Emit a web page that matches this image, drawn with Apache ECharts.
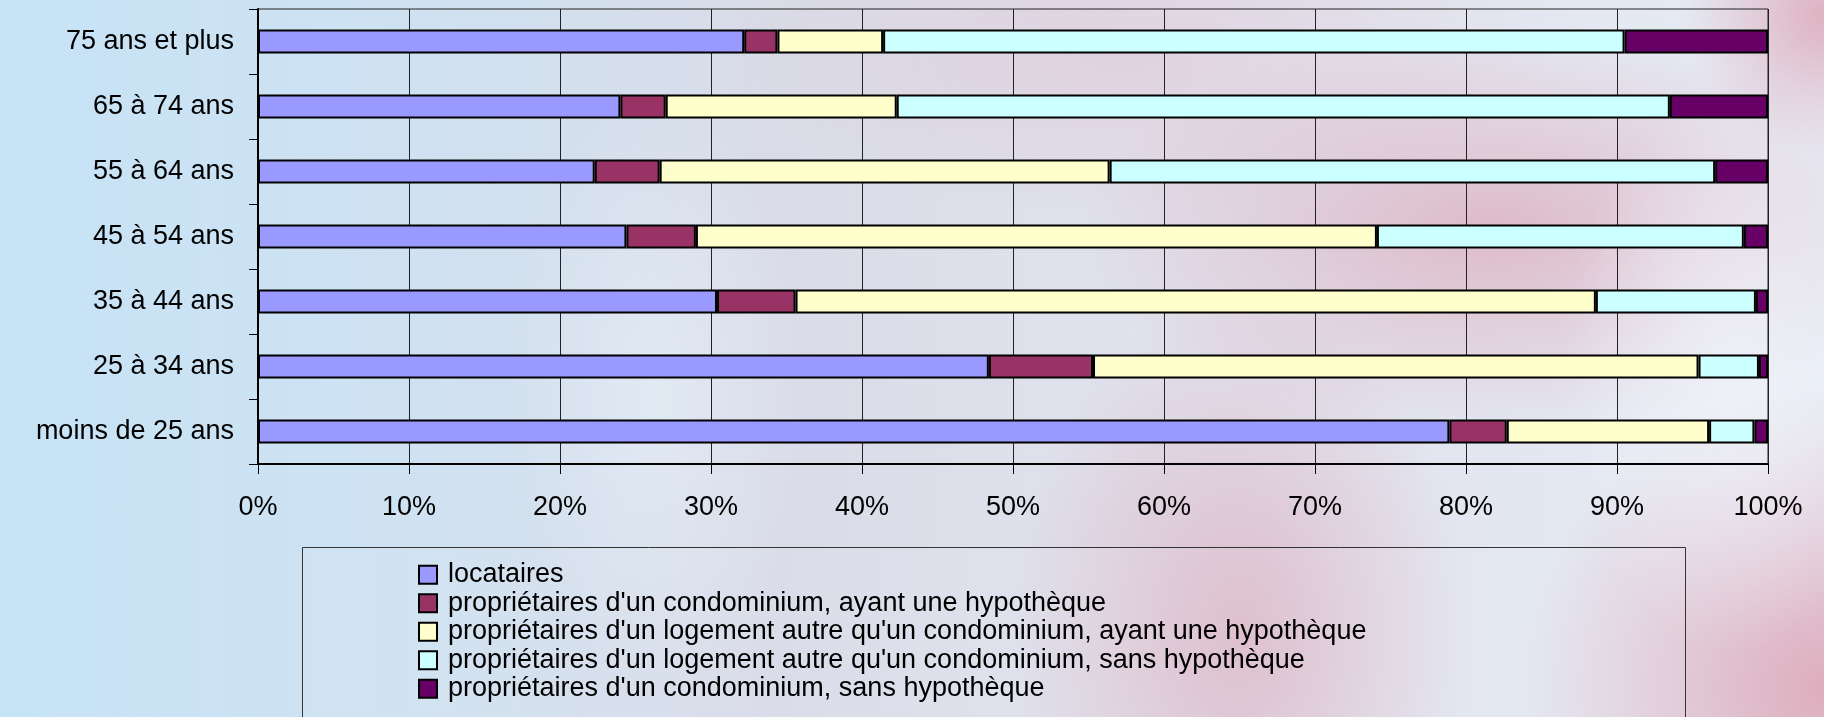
<!DOCTYPE html>
<html>
<head>
<meta charset="utf-8">
<script src="https://cdn.jsdelivr.net/npm/echarts@6/dist/echarts.min.js"></script>
<style>
  html, body { margin: 0; padding: 0; }
  body {
    width: 1824px;
    height: 717px;
    overflow: hidden;
    background:
      radial-gradient(ellipse 170px 280px at 95% 52%, rgba(240, 242, 248, 0.85), rgba(240, 242, 248, 0) 100%),
      radial-gradient(ellipse 420px 200px at 82% 32%, rgba(218, 150, 168, 0.55), rgba(218, 150, 168, 0) 100%),
      radial-gradient(ellipse 230px 330px at 68% 88%, rgba(218, 150, 168, 0.5), rgba(218, 150, 168, 0) 100%),
      radial-gradient(ellipse 300px 300px at 100% 96%, rgba(218, 140, 160, 0.65), rgba(218, 140, 160, 0) 100%),
      radial-gradient(ellipse 140px 140px at 100% 2%, rgba(218, 140, 160, 0.6), rgba(218, 140, 160, 0) 100%),
      radial-gradient(ellipse 420px 160px at 62% 8%, rgba(225, 175, 190, 0.3), rgba(225, 175, 190, 0) 100%),
      radial-gradient(ellipse 150px 300px at 36% 55%, rgba(232, 240, 248, 0.65), rgba(232, 240, 248, 0) 100%),
      linear-gradient(90deg, #c6e3f6 0%, #cfe2f2 22%, #d9dce8 42%, #dfe1ec 60%, #e6ebf4 100%);
  }
  #chart { width: 1824px; height: 717px; }
</style>
</head>
<body>
<div id="chart"></div>
<script>
// categories, bottom to top
const ageGroups = ['moins de 25 ans', '25 à 34 ans', '35 à 44 ans', '45 à 54 ans', '55 à 64 ans', '65 à 74 ans', '75 ans et plus'];

const seriesNames = [
  'locataires',
  "propriétaires d'un condominium, ayant une hypothèque",
  "propriétaires d'un logement autre qu'un condominium, ayant une hypothèque",
  "propriétaires d'un logement autre qu'un condominium, sans hypothèque",
  "propriétaires d'un condominium, sans hypothèque"
];

const locataires = [78.9, 48.4, 30.4, 24.4, 22.3, 24.0, 32.2];
const condoHyp = [3.8, 6.9, 5.2, 4.6, 4.3, 3.0, 2.2];
const autreHyp = [13.4, 40.1, 53.0, 45.1, 29.8, 15.3, 7.0];
const autreSans = [3.0, 4.0, 10.6, 24.3, 40.1, 51.2, 49.1];
const condoSans = [0.9, 0.6, 0.8, 1.6, 3.5, 6.5, 9.5];

const xTicks = [0, 10, 20, 30, 40, 50, 60, 70, 80, 90, 100];

const colors = ['#9999ff', '#993366', '#ffffcc', '#ccffff', '#660066'];
const values = [locataires, condoHyp, autreHyp, autreSans, condoSans];

const chart = echarts.init(document.getElementById('chart'));
const font = 'Liberation Sans, Arial, sans-serif';

const option = {
  backgroundColor: 'transparent',
  animation: false,
  textStyle: { fontFamily: font },
  grid: {
    left: 258,
    right: 56,
    top: 9,
    height: 455,
    show: true,
    borderColor: '#222',
    borderWidth: 1,
    backgroundColor: 'transparent'
  },
  xAxis: {
    type: 'value',
    min: xTicks[0],
    max: xTicks[xTicks.length - 1],
    interval: 10,
    axisLine: { show: true, lineStyle: { color: '#000', width: 2 } },
    axisTick: { show: true, length: 10, lineStyle: { color: '#000', width: 1 } },
    splitLine: { show: true, lineStyle: { color: '#222', width: 1 } },
    axisLabel: {
      formatter: '{value}%',
      fontSize: 27,
      color: '#000',
      margin: 30,
      fontFamily: font
    }
  },
  yAxis: {
    type: 'category',
    data: ageGroups,
    axisLine: { show: true, lineStyle: { color: '#000', width: 2 } },
    axisTick: { show: true, length: 9, lineStyle: { color: '#000', width: 1 } },
    axisLabel: { fontSize: 27, color: '#000', margin: 24, fontFamily: font }
  },
  legend: {
    orient: 'vertical',
    left: 413,
    top: 556,
    itemWidth: 18,
    itemHeight: 18,
    itemGap: 1,
    icon: 'rect',
    textStyle: { fontSize: 27, color: '#000', lineHeight: 27.5, fontFamily: font, padding: [0, 0, 0, 6] },
    data: seriesNames
  },
  graphic: [{
    type: 'rect',
    left: 302,
    top: 547,
    shape: { width: 1383, height: 190 },
    style: { fill: 'rgba(255,255,255,0.05)', stroke: '#333', lineWidth: 1 },
    silent: true,
    z: -1
  }],
  series: seriesNames.map((name, i) => ({
    name: name,
    type: 'bar',
    stack: 'total',
    barWidth: 24,
    data: values[i],
    itemStyle: { color: colors[i], borderColor: '#000', borderWidth: 2 }
  }))
};

chart.setOption(option);
</script>
</body>
</html>
